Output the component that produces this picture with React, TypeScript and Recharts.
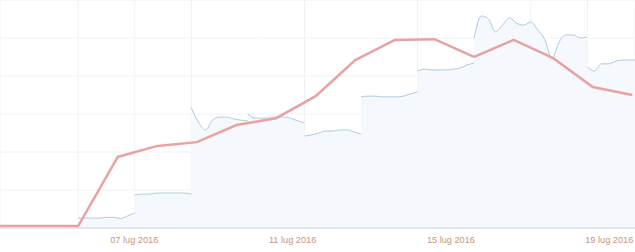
import { ComposedChart, Area, Line, XAxis, YAxis, CartesianGrid } from "recharts";

// time axis in hours since 03 lug 2016 00:00
const RED_START = 14;
const RED_VALUES = [0.5, 0.5, 0.5, 18.7, 21.6, 22.6, 27.1, 28.9, 34.7, 44.2, 49.5, 49.7, 45, 49.5, 44.7, 37.1, 35];

const SEG_START = 62;
const SEG_LEN = 34.3;
const SEG_SPANS = [1, 1, 1, 1, 1, 1, 1, 2, 1];
const BLUE_SEGMENTS = [
  [2.6, 2.6, 2.6, 2.6, 2.8, 2.8, 2.5, 3.2, 3.9],
  [8.7, 8.9, 8.9, 9.2, 9.2, 9.2, 9.2, 9.2, 8.9],
  [31.6, 27.9, 25.8, 28.4, 29.2, 29.2, 28.7, 28.4, 28.2],
  [30, 28.9, 28.9, 28.9, 29.2, 29.2, 28.9, 28.2, 27.6],
  [24.2, 24.5, 25, 25.5, 25.5, 25.8, 25.8, 25.3, 24.7],
  [34.5, 34.7, 34.7, 34.5, 34.5, 34.5, 34.7, 35.3, 35.8],
  [41.3, 41.8, 41.6, 41.6, 41.6, 41.8, 42.1, 42.9, 43.4],
  [50, 55.8, 55, 51.6, 53.4, 55.3, 53.9, 53.4, 54.2, 52.1, 49.5, 44.5, 48.9, 50.8, 50.8, 50, 50.3],
  [42.4, 41.3, 43.2, 43.2, 43.9, 44.2, 44.2, 44.2, 44.2],
];

const TICK_HOURS = [96, 192, 288, 384];
const TICK_LABELS = ["07 lug 2016", "11 lug 2016", "15 lug 2016", "19 lug 2016"];
const Y_TICKS = [0, 10, 20, 30, 40, 50, 60];
const DOMAIN: [number, number] = [14.6, 399.6];

const redData = RED_VALUES.map((v, k) => ({ t: RED_START + 24 * k, red: v }));

const blueData: { t: number; blue: number | null }[] = [];
let segIdx = 0;
BLUE_SEGMENTS.forEach((vals, s) => {
  const start = SEG_START + segIdx * SEG_LEN;
  const step = (SEG_LEN * SEG_SPANS[s]) / (vals.length - 1);
  if (s > 0) blueData.push({ t: start, blue: null });
  vals.forEach((v, i) => blueData.push({ t: start + i * step, blue: v }));
  segIdx += SEG_SPANS[s];
});

const gridTicks = Array.from({ length: 11 }, (_, i) => SEG_START + (i - 1) * SEG_LEN);

export default function App() {
  return (
    <div style={{ width: 635, height: 252, background: "#fff" }}>
      <style>{"body{margin:0}"}</style>
      <ComposedChart width={635} height={252} margin={{ top: 0, right: 0, left: 0, bottom: 0 }}>
        <CartesianGrid stroke="#eef2f6" xAxisId="grid" />
        <XAxis
          dataKey="t"
          type="number"
          domain={DOMAIN}
          allowDataOverflow
          ticks={TICK_HOURS}
          tickFormatter={(v: number) => TICK_LABELS[TICK_HOURS.indexOf(v)] ?? ""}
          tickLine={false}
          axisLine={{ stroke: "#c9d3dc" }}
          tick={{ fill: "#c4967c", fontSize: 9.2, fontFamily: "Liberation Sans, Arial, sans-serif" }}
          height={24}
          interval={0}
        />
        <XAxis xAxisId="grid" type="number" dataKey="t" domain={DOMAIN} allowDataOverflow ticks={gridTicks} hide />
        <YAxis type="number" domain={[0, 60]} ticks={Y_TICKS} hide />
        <Area
          data={blueData}
          dataKey="blue"
          type="monotone"
          stroke="#aecbe2"
          strokeWidth={1}
          fill="#f5f9fd"
          fillOpacity={1}
          connectNulls={false}
          dot={false}
          activeDot={false}
          isAnimationActive={false}
        />
        <Line
          data={redData}
          dataKey="red"
          type="linear"
          stroke="#e8a2a2"
          strokeWidth={2.5}
          dot={false}
          activeDot={false}
          isAnimationActive={false}
        />
      </ComposedChart>
    </div>
  );
}
